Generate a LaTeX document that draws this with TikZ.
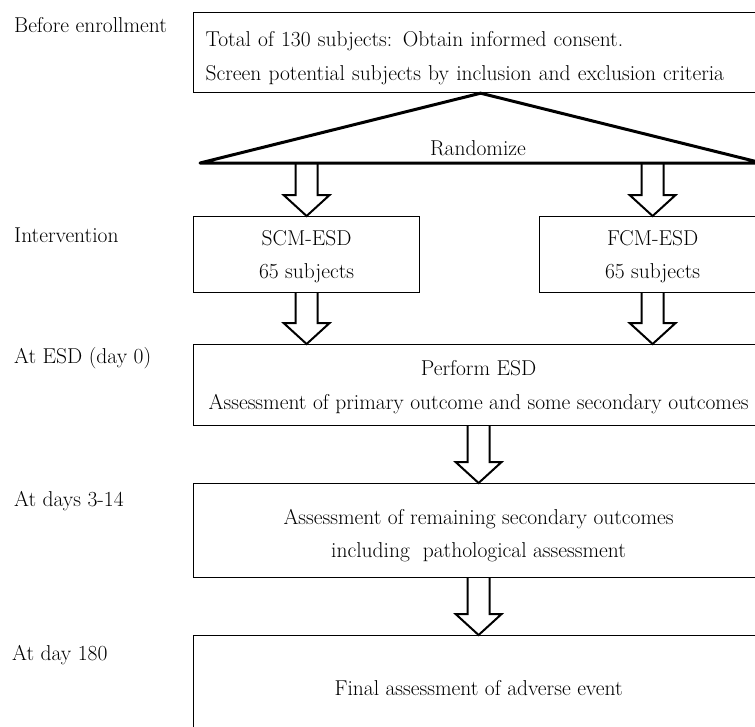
\documentclass[tikz,border=0pt]{standalone}
\usetikzlibrary{calc}
\tikzset{
  stagebox/.style={draw=black, line width=1.2pt, rectangle, anchor=north west, align=center, text depth=0pt, font=\fontsize{21.5}{33.5}\selectfont},
  stagelabel/.style={anchor=west, inner sep=0pt, font=\fontsize{21.5}{25}\selectfont},
  blockline/.style={draw=black, line width=2pt},
}
\newcommand{\blockarrow}[2]{%
  \draw [blockline] let \p1=(#1), \p2=(#2) in
    (\x1-11pt,\y1) -- (\x1-11pt,\y2+21pt) -- (\x1-23pt,\y2+21pt) -- (\x1,\y2)
    -- (\x1+23pt,\y2+21pt) -- (\x1+11pt,\y2+21pt) -- (\x1+11pt,\y1);}
\begin{document}
\begin{tikzpicture}[x=1pt,y=1pt]
\useasboundingbox (0,0) rectangle (755,-726);
\clip (0,0) rectangle (755,-726);
\fill [white] (0,0) rectangle (755,-726);
\node [stagelabel] (lenrol) at (14,-25) {Before enrollment};
\node [stagelabel] (linter) at (14,-235) {Intervention};
\node [stagelabel] (lesd) at (14,-358) {At ESD (day 0)};
\node [stagelabel] (ldays) at (14,-501) {At days 3-14};
\node [stagelabel] (lfinal) at (12,-655) {At day 180};
\node [stagebox, align=left, text width=550pt, inner xsep=12pt, text depth=27pt, minimum height=80pt] (screen) at (193,-12)
  {Total of 130 subjects: Obtain informed consent.\\Screen potential subjects by inclusion and exclusion criteria};
\coordinate (rleft) at (200,-163);
\coordinate (rright) at (762,-163);
\draw [black, line width=3pt, line join=round] (screen.south) -- (rleft) -- (rright) -- cycle;
\node [font=\fontsize{21.5}{25}\selectfont] (rand) at (478,-148) {Randomize};
\node [stagebox, minimum width=226pt, minimum height=76pt] (scm) at (193,-216) {SCM-ESD\\65 subjects};
\node [stagebox, minimum width=226pt, minimum height=76pt] (fcm) at (539,-216) {FCM-ESD\\65 subjects};
\node [stagebox, minimum width=570pt, minimum height=81pt] (esd) at (193,-344)
  {Perform ESD\\Assessment of primary outcome and some secondary outcomes};
\node [stagebox, minimum width=570pt, minimum height=94pt, text height=54pt] (days) at (193,-483)
  {Assessment of remaining secondary outcomes\\including\ \ pathological assessment};
\node [stagebox, minimum width=570pt, minimum height=104pt] (final) at (193,-635)
  {Final assessment of adverse event};
\blockarrow{scm.north |- rleft}{scm.north}
\blockarrow{fcm.north |- rleft}{fcm.north}
\blockarrow{scm.south}{scm.south |- esd.north}
\blockarrow{fcm.south}{fcm.south |- esd.north}
\blockarrow{esd.south}{days.north}
\blockarrow{days.south}{final.north}
\end{tikzpicture}
\end{document}
